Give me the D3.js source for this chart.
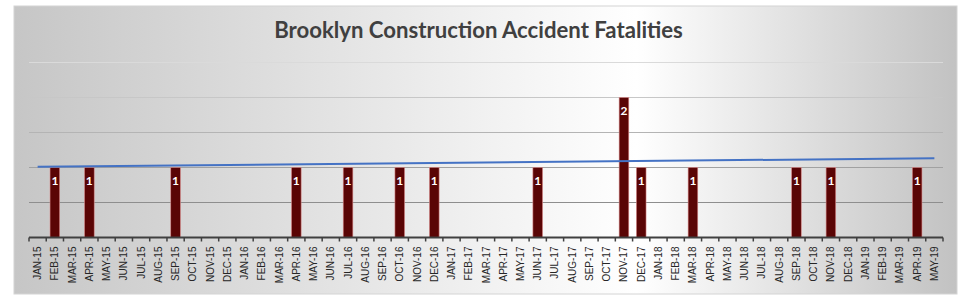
<!DOCTYPE html>
<html>
<head>
<meta charset="utf-8">
<script src="https://cdn.jsdelivr.net/npm/d3@7/dist/d3.min.js"></script>
<style>
html,body{margin:0;padding:0;background:#fff;}
svg{display:block;}
</style>
</head>
<body>
<svg id="chart" width="974" height="305"></svg>
<script>
const title = "Brooklyn Construction Accident Fatalities";
const months = ["JAN-15","FEB-15","MAR-15","APR-15","MAY-15","JUN-15","JUL-15","AUG-15","SEP-15","OCT-15","NOV-15","DEC-15",
"JAN-16","FEB-16","MAR-16","APR-16","MAY-16","JUN-16","JUL-16","AUG-16","SEP-16","OCT-16","NOV-16","DEC-16",
"JAN-17","FEB-17","MAR-17","APR-17","MAY-17","JUN-17","JUL-17","AUG-17","SEP-17","OCT-17","NOV-17","DEC-17",
"JAN-18","FEB-18","MAR-18","APR-18","MAY-18","JUN-18","JUL-18","AUG-18","SEP-18","OCT-18","NOV-18","DEC-18",
"JAN-19","FEB-19","MAR-19","APR-19","MAY-19"];
// fatalities per month (null = no entry)
const fatalities = [null,1,null,1,null,null,null,null,1,null,null,null,
null,null,null,1,null,null,1,null,null,1,null,1,
null,null,null,null,null,1,null,null,null,null,2,1,
null,null,1,null,null,null,null,null,1,null,1,null,
null,null,null,1,null];
const gridValues = [0.5,1,1.5,2,2.5];

const svg = d3.select("#chart");
const defs = svg.append("defs");
const bg = defs.append("linearGradient").attr("id","bg").attr("x1","0").attr("x2","1").attr("y1","0").attr("y2","0");
bg.append("stop").attr("offset","0%").attr("stop-color","#c6c6c6");
bg.append("stop").attr("offset","66%").attr("stop-color","#ffffff");
bg.append("stop").attr("offset","100%").attr("stop-color","#c2c2c2");

const W = {left:29, right:943, top:62.5, bottom:237.5};
const x = d3.scaleBand().domain(months).range([W.left, W.right]).paddingInner(0.44).paddingOuter(0.22);
const xb = d3.scaleBand().domain(months).range([W.left, W.right]);
const y = d3.scaleLinear().domain([0,2.5]).range([W.bottom, W.top]);

const gg = defs.append("linearGradient").attr("id","gridg").attr("gradientUnits","userSpaceOnUse")
  .attr("x1",0).attr("x2",0).attr("y1",y(2.5)).attr("y2",y(0.5));
gg.append("stop").attr("offset","0%").attr("stop-color","#dadada");
gg.append("stop").attr("offset","100%").attr("stop-color","#8e8e8e");

svg.append("rect").attr("x",14).attr("y",6).attr("width",943).attr("height",288)
  .attr("fill","url(#bg)").attr("stroke","#d4d4d4").attr("stroke-width",1);

// gridlines
svg.append("g").selectAll("line").data(gridValues).join("line")
  .attr("x1",W.left).attr("x2",W.right)
  .attr("y1",d=>y(d)).attr("y2",d=>y(d))
  .attr("stroke","url(#gridg)").attr("stroke-width",1);

// title
const t = svg.append("text").attr("x",478.5).attr("y",38).attr("text-anchor","middle")
  .attr("font-family","Lato, 'Open Sans', sans-serif").attr("font-weight","bold")
  .attr("font-size",20).attr("fill","#404040").text(title);
const tw = t.node().getComputedTextLength();
t.attr("font-size", 20*409/tw);

// bars
const data = months.map((m,i)=>({m, v:fatalities[i]})).filter(d=>d.v!=null);
svg.append("g").selectAll("rect").data(data).join("rect")
  .attr("x",d=>x(d.m)).attr("width",x.bandwidth())
  .attr("y",d=>y(d.v)).attr("height",d=>y(0)-y(d.v))
  .attr("fill","#5a0505").attr("stroke","#d88a8a").attr("stroke-width",0.6);

// labels
svg.append("g").selectAll("text").data(data).join("text")
  .attr("x",d=>x(d.m)+x.bandwidth()/2).attr("y",d=>y(d.v)+17.5)
  .attr("text-anchor","middle").attr("font-family","Lato, sans-serif").attr("font-weight","bold")
  .attr("font-size",12).attr("fill","#ffffff").text(d=>d.v);

// trendline (linear regression over recorded months)
const pts = months.map((m,i)=>[i,fatalities[i]]).filter(p=>p[1]!=null);
const mx = d3.mean(pts,p=>p[0]), my = d3.mean(pts,p=>p[1]);
const slope = d3.sum(pts,p=>(p[0]-mx)*(p[1]-my))/d3.sum(pts,p=>(p[0]-mx)**2);
const icpt = my - slope*mx;
const trend = [0, months.length-1].map(i=>[xb(months[i])+xb.bandwidth()/2, y(icpt+slope*i)]);
svg.append("path").attr("d",d3.line()(trend)).attr("stroke","#4472c4").attr("stroke-width",2).attr("fill","none");

// x axis
const axis = svg.append("g").attr("transform",`translate(0,${W.bottom})`);
axis.append("line").attr("x1",W.left).attr("x2",W.right).attr("stroke","#404040").attr("stroke-width",2);
const bounds = months.map(m=>xb(m)).concat([W.right]);
axis.selectAll("line.tk").data(bounds).join("line").attr("class","tk")
  .attr("x1",d=>d).attr("x2",d=>d).attr("y1",0).attr("y2",4)
  .attr("stroke","#404040").attr("stroke-width",1.5);
axis.selectAll("text").data(months).join("text")
  .attr("transform",d=>`translate(${xb(d)+xb.bandwidth()/2},9) rotate(-90)`)
  .attr("text-anchor","end").attr("dy","0.35em")
  .attr("font-family","'Liberation Sans', Arial, sans-serif").attr("font-size",10)
  .attr("fill","#262626").text(d=>d);
</script>
</body>
</html>
